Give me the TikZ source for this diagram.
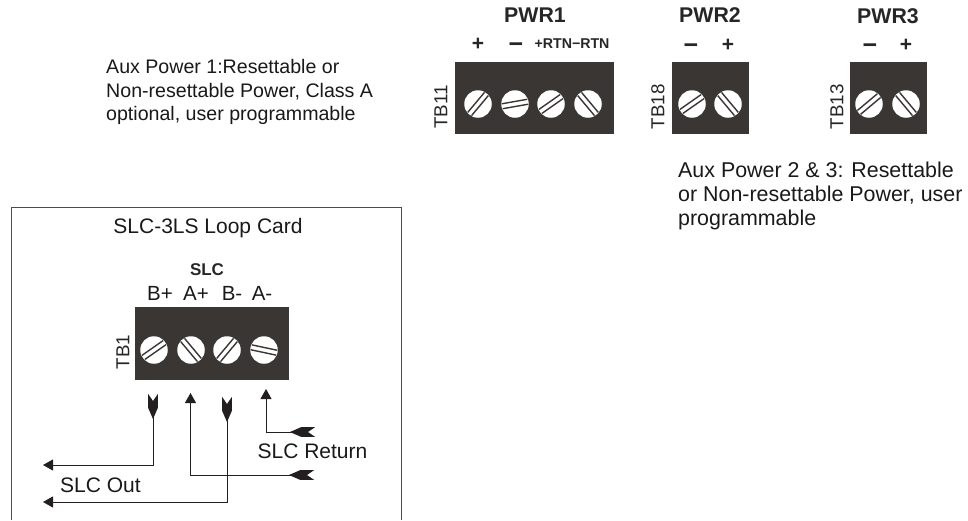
\documentclass[tikz,border=0pt]{standalone}
\usepackage{fontspec}
\setmainfont{Liberation Sans}
\usetikzlibrary{arrows.meta}

\pgfdeclarearrow{
  name=Feather,
  setup code={
    \pgfarrowssettipend{0pt}
    \pgfarrowssetlineend{-21pt}
    \pgfarrowssetvisualbackend{-25pt}
    \pgfarrowssetbackend{-25pt}
  },
  drawing code={
    \pgfpathmoveto{\pgfqpoint{0pt}{4.8pt}}
    \pgfpathlineto{\pgfqpoint{-14pt}{4.8pt}}
    \pgfpathlineto{\pgfqpoint{-25pt}{0pt}}
    \pgfpathlineto{\pgfqpoint{-14pt}{-4.8pt}}
    \pgfpathlineto{\pgfqpoint{0pt}{-4.8pt}}
    \pgfpathlineto{\pgfqpoint{-7pt}{0pt}}
    \pgfpathclose
    \pgfusepathqfill
  }
}

\definecolor{blockink}{HTML}{3A3634}
\definecolor{wireink}{HTML}{231F20}
\tikzset{
  wire/.style={draw=wireink, line width=1pt},
  headtip/.tip={Triangle[length=10pt, width=11pt]},
  screw/.style={circle, fill=white, minimum size=27.5pt, inner sep=0pt},
  bodytext/.style={inner sep=0pt, anchor=north west, align=left, text=black!90,
    font=\fontsize{19.6}{23.6}\selectfont},
  largetext/.style={bodytext, font=\fontsize{21.4}{23.7}\selectfont},
  plaintext/.style={inner sep=0pt, text=black!90, font=\fontsize{21}{24}\selectfont},
  termtext/.style={inner sep=0pt, text=black!90, font=\fontsize{20.5}{24}\selectfont},
  tblabel/.style={inner sep=0pt, rotate=90, text=black!85, font=\fontsize{18.8}{24}\selectfont},
  titletext/.style={inner sep=0pt, text=black!85, font=\bfseries\fontsize{21.3}{24}\selectfont},
  plustext/.style={inner sep=0pt, text=black!85, font=\bfseries\fontsize{21}{23}\selectfont},
  minustext/.style={inner sep=0pt, text=black!85, font=\bfseries\fontsize{25}{25}\selectfont},
  rtntext/.style={inner sep=0pt, text=black!85, font=\bfseries\fontsize{14.2}{16}\selectfont}
}

\begin{document}
\begin{tikzpicture}[x=1pt, y=-1pt]
\useasboundingbox (0, 0) rectangle (968, 520);

% loop card frame
\draw[line width=1pt, draw=black!70] (11, 520) -- (11, 207) -- (401, 207) -- (401, 520);

% terminal blocks
\fill[blockink] (455, 62) rectangle (614, 134);
\fill[blockink] (672, 62) rectangle (749, 134);
\fill[blockink] (850, 62) rectangle (927, 134);
\fill[blockink] (135, 307) rectangle (289, 380);

% screws
\foreach \name/\px/\py/\ang in {
    a1/478/104/50, a2/515/104/10, a3/551/104/35, a4/588/104/-50,
    b1/692/104/35, b2/728/104/-50,
    c1/869/104/40, c2/906/104/-50,
    d1/154/350/35, d2/191/350/-50, d3/227/350/50, d4/264/350/-12} {
  \node[screw] (\name) at (\px, \py) {};
  \draw[line width=1.4pt, draw=blockink, rotate around={\ang:(\px, \py)}]
    (\px-13, \py-2.5) -- (\px+13, \py-2.5)
    (\px-13, \py+2.5) -- (\px+13, \py+2.5);
}

% headings
\node[titletext] (pwr1) at (535, 15) {PWR1};
\node[titletext] (pwr2) at (710, 15) {PWR2};
\node[titletext] (pwr3) at (888, 16) {PWR3};
\node[plustext] (p1) at (478, 44) {+};
\node[minustext] (p2) at (516, 47.5) {\textminus};
\node[rtntext] (p3) at (572, 44) {+RTN\textminus RTN};
\node[minustext] (q1) at (691, 48.5) {\textminus};
\node[plustext] (q2) at (728, 45) {+};
\node[minustext] (r1) at (870, 48.5) {\textminus};
\node[plustext] (r2) at (906, 45) {+};

% block names
\node[tblabel] (tb11) at (441, 107) {TB11};
\node[tblabel] (tb18) at (658, 107) {TB18};
\node[tblabel] (tb13) at (837, 107) {TB13};
\node[tblabel] (tb1) at (123, 352) {TB1};

% texts
\node[bodytext] (aux1) at (106, 59) {Aux Power 1:Resettable or\\Non-resettable Power, Class A\\optional, user programmable};
\node[largetext] (aux2) at (678, 162) {Aux Power 2 \& 3: Resettable\\or Non-resettable Power, user\\programmable};
\node[plaintext] (card) at (208, 228) {SLC-3LS Loop Card};
\node[titletext, font=\bfseries\fontsize{17}{18}\selectfont] (slc) at (207, 270) {SLC};
\node[termtext] (bp) at (160, 293) {B+};
\node[termtext] (ap) at (196, 293) {A+};
\node[termtext] (bm) at (232, 293) {B-};
\node[termtext] (am) at (262, 293) {A-};
\node[plaintext] (slcret) at (312.5, 451) {SLC Return};
\node[plaintext] (slcout) at (100.5, 485) {SLC Out};

% wiring
\coordinate (t1) at (153, 394);
\coordinate (k1) at (153, 465);
\coordinate (e1) at (43, 465);
\coordinate (t2) at (190.5, 393);
\coordinate (k2) at (190.5, 475);
\coordinate (e2) at (314, 475);
\coordinate (t3) at (227, 397);
\coordinate (k3) at (227, 502);
\coordinate (e3) at (43, 502);
\coordinate (t4) at (266, 389);
\coordinate (k4) at (266, 432);
\coordinate (e4) at (315, 432);

\draw[wire, Feather-headtip] (t1) -- (k1) -- (e1);
\draw[wire, Feather-headtip] (e2) -- (k2) -- (t2);
\draw[wire, Feather-headtip] (t3) -- (k3) -- (e3);
\draw[wire, Feather-headtip] (e4) -- (k4) -- (t4);
\end{tikzpicture}
\end{document}
